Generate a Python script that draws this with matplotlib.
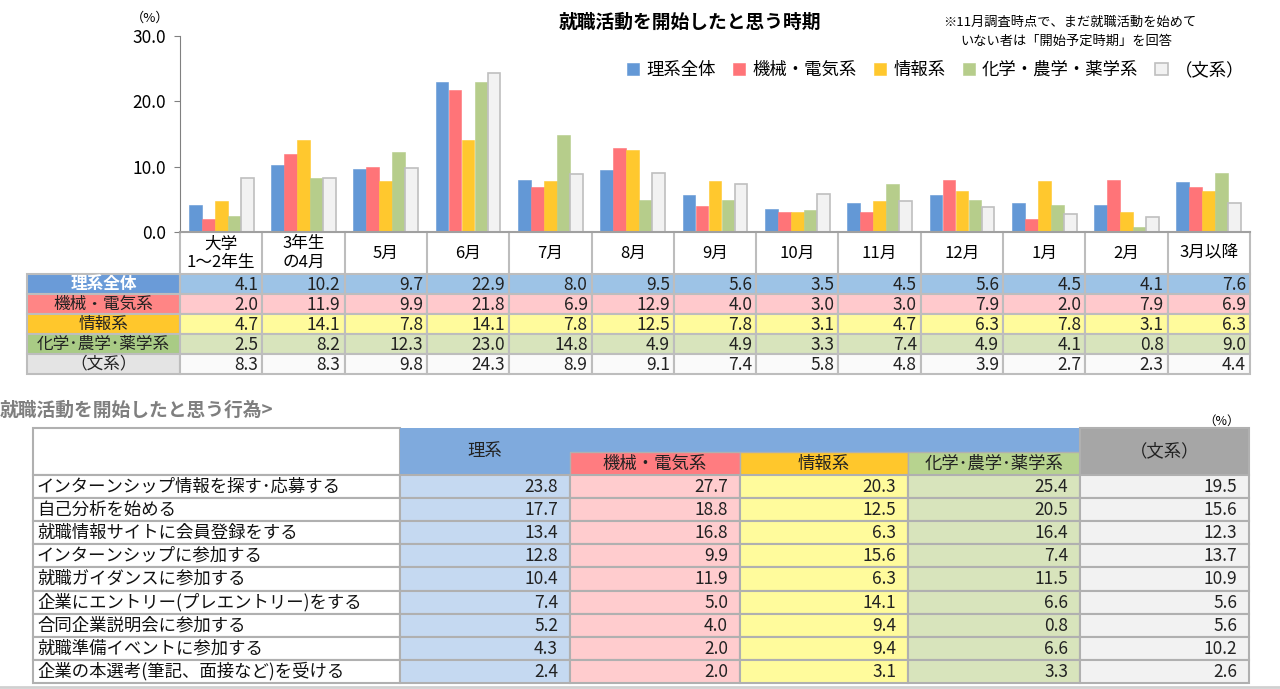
import matplotlib
matplotlib.use("Agg")
import matplotlib.pyplot as plt
from matplotlib.patches import Rectangle
import numpy as np

plt.rcParams['font.family'] = ['Noto Sans CJK JP', 'DejaVu Sans']

# ---- data: 就職活動を開始したと思う時期 ----
periods = ['大学\n1～2年生', '3年生\nの4月', '5月', '6月', '7月', '8月', '9月',
           '10月', '11月', '12月', '1月', '2月', '3月以降']
series_names = ['理系全体', '機械・電気系', '情報系', '化学・農学・薬学系', '（文系）']
table_names = ['理系全体', '機械・電気系', '情報系', '化学･農学･薬学系', '（文系）']
riko = [4.1, 10.2, 9.7, 22.9, 8.0, 9.5, 5.6, 3.5, 4.5, 5.6, 4.5, 4.1, 7.6]
kikai = [2.0, 11.9, 9.9, 21.8, 6.9, 12.9, 4.0, 3.0, 3.0, 7.9, 2.0, 7.9, 6.9]
joho = [4.7, 14.1, 7.8, 14.1, 7.8, 12.5, 7.8, 3.1, 4.7, 6.3, 7.8, 3.1, 6.3]
kagaku = [2.5, 8.2, 12.3, 23.0, 14.8, 4.9, 4.9, 3.3, 7.4, 4.9, 4.1, 0.8, 9.0]
bunkei = [8.3, 8.3, 9.8, 24.3, 8.9, 9.1, 7.4, 5.8, 4.8, 3.9, 2.7, 2.3, 4.4]

# ---- data: 就職活動を開始したと思う行為 ----
acts = ['インターンシップ情報を探す･応募する', '自己分析を始める', '就職情報サイトに会員登録をする',
        'インターンシップに参加する', '就職ガイダンスに参加する', '企業にエントリー(プレエントリー)をする',
        '合同企業説明会に参加する', '就職準備イベントに参加する', '企業の本選考(筆記、面接など)を受ける']
riko2 = [23.8, 17.7, 13.4, 12.8, 10.4, 7.4, 5.2, 4.3, 2.4]
kikai2 = [27.7, 18.8, 16.8, 9.9, 11.9, 5.0, 4.0, 2.0, 2.0]
joho2 = [20.3, 12.5, 6.3, 15.6, 6.3, 14.1, 9.4, 9.4, 3.1]
kagaku2 = [25.4, 20.5, 16.4, 7.4, 11.5, 6.6, 0.8, 6.6, 3.3]
bunkei2 = [19.5, 15.6, 12.3, 13.7, 10.9, 5.6, 5.6, 10.2, 2.6]

bar_colors = ['#6398D6', '#FF7478', '#FFC82E', '#B6CD8B', '#F2F2F2']
head_colors = ['#6A9BD8', '#FF8585', '#FFC72C', '#A9CB85', '#E4E4E4']
cell_colors = ['#9DC3E6', '#FFC9CC', '#FFFB9C', '#D8E4BC', '#FAFAFA']
head_text = ['white', '#222222', '#222222', '#222222', '#222222']
grid = '#BDBDBD'

W, H = 1280, 689
fig = plt.figure(figsize=(W / 100, H / 100), dpi=100)

# pixel-coordinate overlay for tables and text
ov = fig.add_axes([0, 0, 1, 1])
ov.set_xlim(0, W)
ov.set_ylim(H, 0)
ov.axis('off')

# ---- bar chart ----
x0, x1, ytop, ybot = 180, 1250, 36, 232
ax = fig.add_axes([x0 / W, 1 - ybot / H, (x1 - x0) / W, (ybot - ytop) / H])
ax.patch.set_alpha(0)
series = [riko, kikai, joho, kagaku, bunkei]
x = np.arange(len(periods))
bw = 0.155
for i, (vals, c, name) in enumerate(zip(series, bar_colors, series_names)):
    ec = '#BFBFBF' if i == 4 else c
    ax.bar(x + (i - 2) * 0.158, vals, bw, color=c, edgecolor=ec, linewidth=1.2 if i == 4 else 0.4,
           label=name)
ax.set_xlim(-0.5, len(periods) - 0.5)
ax.set_ylim(0, 30)
ax.set_yticks([0, 10, 20, 30])
ax.set_yticklabels(['0.0', '10.0', '20.0', '30.0'], fontsize=12.5)
ax.set_xticks([])
for s in ['top', 'right']:
    ax.spines[s].set_visible(False)
ax.spines['left'].set_color('#808080')
ax.spines['bottom'].set_color('#A0A0A0')
ax.spines['bottom'].set_linewidth(1.5)
ax.tick_params(axis='y', length=4, color='#808080', pad=6)

ov.text(150, 18, '（%）', fontsize=9.5, ha='center', va='center')
ov.text(690, 22, '就職活動を開始したと思う時期', fontsize=13.5, fontweight='bold', ha='center', va='center')
ov.text(943, 22, '※11月調査時点で、まだ就職活動を始めて', fontsize=9.5, ha='left', va='center')
ov.text(960, 41, 'いない者は「開始予定時期」を回答', fontsize=9.5, ha='left', va='center')

fig.legend(loc='center right', bbox_to_anchor=(1244 / W, 1 - 70 / H), ncol=5, frameon=False,
           fontsize=12.5, handlelength=0.7, handleheight=0.7, handletextpad=0.4,
           columnspacing=1.0, borderaxespad=0, borderpad=0)

# category label row + data table
cw = (x1 - x0) / len(periods)
ov.plot([x0, x0], [ybot, 274], color=grid, lw=1.5)
for j, lab in enumerate(periods):
    xl = x0 + j * cw
    ov.plot([xl + cw, xl + cw], [ybot, 274], color=grid, lw=1.5)
    ov.text(xl + cw / 2, 253, lab, fontsize=12, ha='center', va='center', linespacing=1.1)

rt, rh, lx = 274, 20, 27
for r, (vals, name) in enumerate(zip(series, table_names)):
    yt = rt + r * rh
    ov.add_patch(Rectangle((lx, yt), x0 - lx, rh, facecolor=head_colors[r], edgecolor=grid, lw=1.5))
    fw = 'bold' if r == 0 else 'normal'
    ov.text((lx + x0) / 2, yt + rh / 2, name, fontsize=12, ha='center', va='center',
            color=head_text[r], fontweight=fw)
    for j, v in enumerate(vals):
        xl = x0 + j * cw
        ov.add_patch(Rectangle((xl, yt), cw, rh, facecolor=cell_colors[r], edgecolor=grid, lw=1.5))
        ov.text(xl + cw - 4, yt + rh / 2 + 0.5, f'{v:.1f}', fontsize=12.5, ha='right', va='center',
                color='#222222')

# ---- second table ----
ov.text(0, 410, '就職活動を開始したと思う行為>', fontsize=13.5, fontweight='bold', color='#7F7F7F',
        ha='left', va='center')
ov.text(1222, 421, '（%）', fontsize=9, ha='center', va='center')

cx = [33, 400, 570, 740, 908, 1080, 1249]
ht, hm, hb = 428, 452, 475
h2_head = ['#7FAADD', '#FF7C80', '#FFC72C', '#B7D38F', '#A6A6A6']
h2_cell = ['#C5D9F1', '#FFCCCE', '#FFFB9C', '#D8E4BC', '#F2F2F2']
g2 = '#B0B0B0'

ov.add_patch(Rectangle((cx[0], ht), cx[1] - cx[0], hb - ht, facecolor='white', edgecolor=g2, lw=1.5))
ov.add_patch(Rectangle((cx[1], ht), cx[5] - cx[1], hm - ht, facecolor=h2_head[0], edgecolor='none'))
ov.add_patch(Rectangle((cx[1], hm), cx[2] - cx[1], hb - hm, facecolor=h2_head[0], edgecolor='none'))
for k in range(1, 4):
    ov.add_patch(Rectangle((cx[k + 1], hm), cx[k + 2] - cx[k + 1], hb - hm, facecolor=h2_head[k],
                           edgecolor=g2, lw=1.0))
ov.add_patch(Rectangle((cx[5], ht), cx[6] - cx[5], hb - ht, facecolor=h2_head[4], edgecolor=g2, lw=1.5))
ov.text((cx[1] + cx[2]) / 2, 451, '理系', fontsize=12.5, ha='center', va='center', color='#222222')
ov.text((cx[2] + cx[3]) / 2, 464, '機械・電気系', fontsize=12.5, ha='center', va='center', color='#222222')
ov.text((cx[3] + cx[4]) / 2, 464, '情報系', fontsize=12.5, ha='center', va='center', color='#222222')
ov.text((cx[4] + cx[5]) / 2, 464, '化学･農学･薬学系', fontsize=12.5, ha='center', va='center', color='#222222')
ov.text((cx[5] + cx[6]) / 2, 451, '（文系）', fontsize=12.5, ha='center', va='center', color='#222222')

cols2 = [riko2, kikai2, joho2, kagaku2, bunkei2]
r2h = 23.1
for r, act in enumerate(acts):
    yt = hb + r * r2h
    ov.add_patch(Rectangle((cx[0], yt), cx[1] - cx[0], r2h, facecolor='white', edgecolor=g2, lw=1.5))
    ov.text(cx[0] + 4, yt + r2h / 2, act, fontsize=12.5, ha='left', va='center', color='#111111')
    for k, col in enumerate(cols2):
        ov.add_patch(Rectangle((cx[k + 1], yt), cx[k + 2] - cx[k + 1], r2h, facecolor=h2_cell[k],
                               edgecolor=g2, lw=1.5))
        ov.text(cx[k + 2] - 12, yt + r2h / 2 + 0.5, f'{col[r]:.1f}', fontsize=12.5, ha='right',
                va='center', color='#222222')

ov.plot([0, W], [687, 687], color='#D0D0D0', lw=2)

fig.savefig('out.png', dpi=100)
